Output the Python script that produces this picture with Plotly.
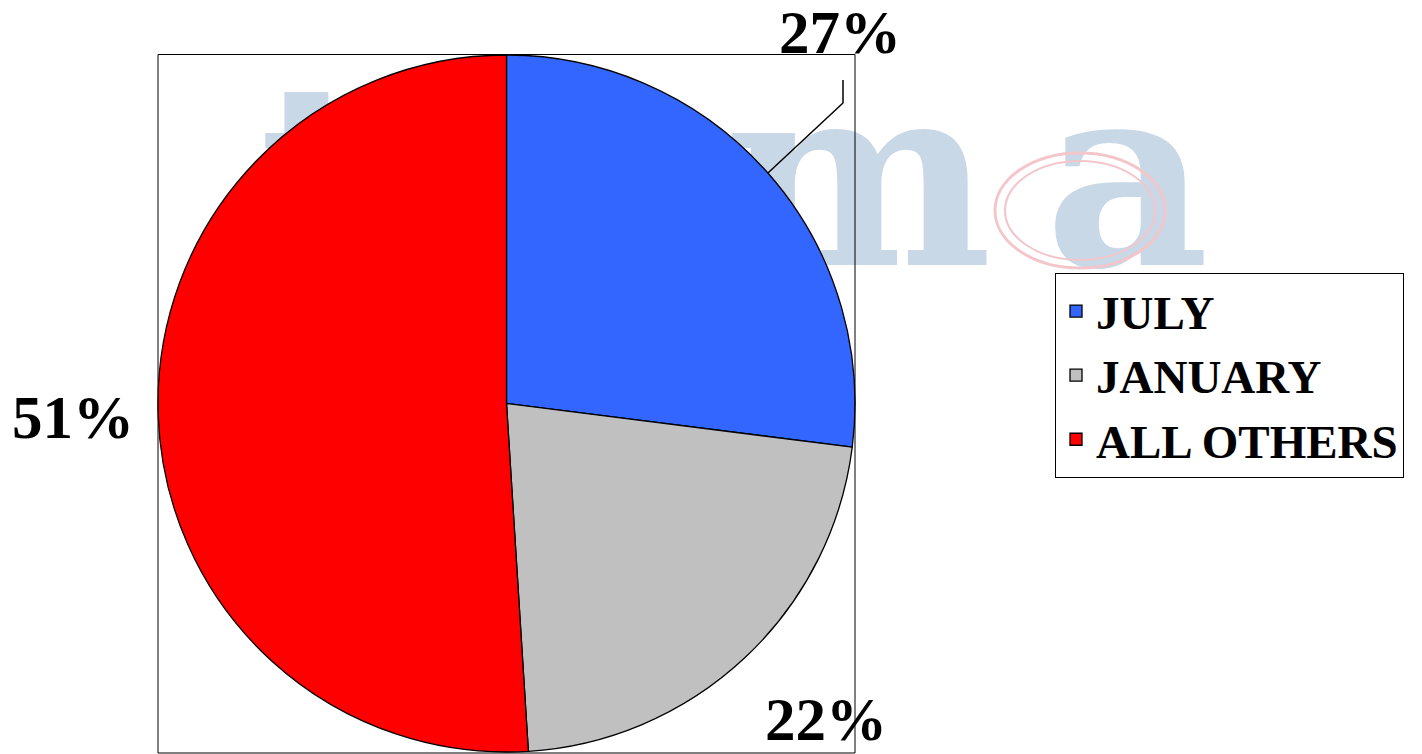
import math
import plotly.graph_objects as go

# ---- data ----
labels = ["JULY", "JANUARY", "ALL OTHERS"]
values = [27, 22, 51]
colors = ["#3366FF", "#C0C0C0", "#FF0000"]

W, H = 1422, 754
OFF = 8  # page body margin of the html output


def px(x):
    return (x - OFF) / W


def py(y):
    return 1 - (y - OFF) / H


# pie placement (page pixels)
PIE_L, PIE_R, PIE_T, PIE_B = 158, 855, 55, 752
cx, cy = (PIE_L + PIE_R) / 2, (PIE_T + PIE_B) / 2
r = (PIE_R - PIE_L) / 2

total = sum(values)
pct_text = [f"{round(100 * v / total)}%" for v in values]

fig = go.Figure(
    go.Pie(
        labels=labels,
        values=values,
        sort=False,
        direction="clockwise",
        rotation=0,
        marker=dict(colors=colors, line=dict(color="black", width=1.3)),
        textinfo="none",
        hoverinfo="label+percent",
        domain=dict(x=[px(PIE_L), px(PIE_R)], y=[py(PIE_B), py(PIE_T)]),
    )
)

# label positions (page pixel centre of digits)
label_pos = [(840, 34), (826, 720), (73, 419)]
annotations = []
for t, (lx, ly) in zip(pct_text, label_pos):
    annotations.append(
        dict(
            x=px(lx), y=py(ly - 1), xref="paper", yref="paper",
            text=t, showarrow=False, xanchor="center", yanchor="middle",
            font=dict(family="Liberation Serif", size=61, color="black", weight="bold"),
        )
    )

# leader line for first slice, from slice mid-edge
mid_frac = values[0] / 2 / total
theta = math.radians(90 - 360 * mid_frac)
sx, sy = cx + r * math.cos(theta), cy - r * math.sin(theta)
elbow_x, elbow_y, end_y = 843, 103, 80
shapes = [
    dict(type="path", xref="paper", yref="paper",
         path=f"M {px(sx)},{py(sy)} L {px(elbow_x)},{py(elbow_y)} L {px(elbow_x)},{py(end_y)}",
         line=dict(color="black", width=1.5), layer="above"),
    # frame around plot area
    dict(type="rect", xref="paper", yref="paper",
         x0=px(PIE_L), x1=px(PIE_R), y0=py(753), y1=py(54.5),
         line=dict(color="black", width=1), layer="above"),
]

# faint watermark logo behind the chart
wm_color = "#C9D8E7"
for ch, xc in zip(["t", "m", "a"], [318, 858, 1127]):
    shapes.append(
        dict(type="rect", xref="paper", yref="paper",
             x0=px(xc - 150), x1=px(xc + 150), y0=py(330), y1=py(11),
             line=dict(width=0), fillcolor="rgba(0,0,0,0)", layer="below",
             label=dict(text=ch, textposition="top center", yanchor="top", padding=0,
                        font=dict(family="DejaVu Serif", size=254, color=wm_color, weight="bold")))
    )
shapes.append(dict(type="circle", xref="paper", yref="paper",
                   x0=px(995), x1=px(1165), y0=py(268), y1=py(153),
                   line=dict(color="#F2C6CB", width=3), layer="below"))
shapes.append(dict(type="circle", xref="paper", yref="paper",
                   x0=px(1005), x1=px(1155), y0=py(260), y1=py(161),
                   line=dict(color="#F2C6CB", width=2), layer="below"))

fig.update_layout(
    width=W, height=H,
    margin=dict(l=0, r=0, t=0, b=0),
    paper_bgcolor="white",
    plot_bgcolor="white",
    showlegend=True,
    legend=dict(
        x=px(1055), y=py(273), xanchor="left", yanchor="top",
        bordercolor="black", borderwidth=1, bgcolor="white",
        font=dict(family="Liberation Serif", size=47, color="black", weight="bold"),
        tracegroupgap=0,
    ),
    annotations=annotations,
    shapes=shapes,
)

fig.write_html("out.html")
